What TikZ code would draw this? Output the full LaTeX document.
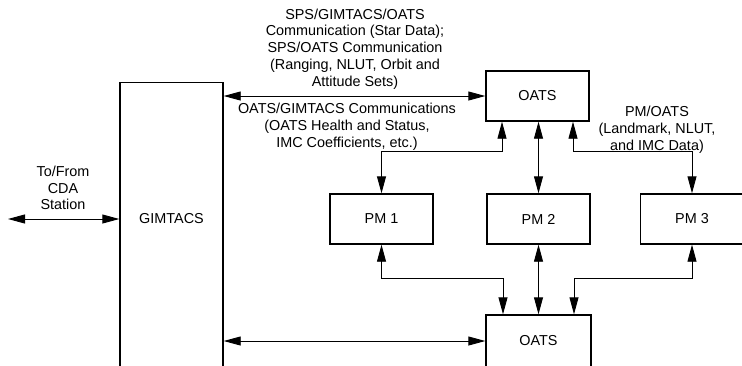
\documentclass[tikz,border=0pt]{standalone}
\usepackage{fontspec}
\setmainfont{Liberation Sans}
\usetikzlibrary{arrows.meta}

\begin{document}
\begin{tikzpicture}[x=1pt, y=-1pt,
  every node/.style={font=\fontsize{14.4}{16.8}\selectfont},
  unit/.style={draw, line width=1.4pt, minimum width=103pt, minimum height=50pt, inner sep=0pt},
  note/.style={align=center, inner sep=0pt},
  link/.style={line width=0.9pt, {Triangle[length=17pt,width=9pt]}-{Triangle[length=17pt,width=9pt]}}]
  \useasboundingbox (0,0) rectangle (742,365);
  \node[unit, minimum height=340pt, anchor=north] (gim) at (171.5,82) {};
  \node[note] (gimname) at (171.5,219) {GIMTACS};
  \node[unit] (oatsup) at (537.5,96) {OATS};
  \node[unit] (pm1) at (381.5,219) {PM 1};
  \node[unit] (pm2) at (538.5,219) {PM 2};
  \node[unit, minimum width=130pt, anchor=west] (pm3) at (640,219) {};
  \node[note] (pm3name) at (692,219) {PM 3};
  \node[unit, minimum width=105pt, minimum height=52pt] (oatsdn) at (538.5,341) {OATS};
  \coordinate (cda) at (8,219);
  \node[note] (cdanote) at (63,188) {To/From\\CDA\\Station};
  \node[note] (spsnote) at (355,49) {SPS/GIMTACS/OATS\\Communication (Star Data);\\SPS/OATS Communication\\(Ranging, NLUT, Orbit and\\Attitude Sets)};
  \node[note] (hsnote) at (347,127) {OATS/GIMTACS Communications\\(OATS Health and Status,\\IMC Coefficients, etc.)};
  \node[note] (pmnote) at (657,130) {PM/OATS\\(Landmark, NLUT,\\and IMC Data)};
  \draw[link] (cda) -- (gim.west |- cda);
  \draw[link] (gim.east |- oatsup.west) -- (oatsup.west);
  \draw[link] (gim.east |- oatsdn.west) -- (oatsdn.west);
  \draw[link] ([xshift=-35.5pt]oatsup.south) -- ++(0,30) -| (pm1.north);
  \draw[link] (oatsup.south -| pm2.north) -- (pm2.north);
  \draw[link] ([xshift=35.5pt]oatsup.south) -- ++(0,30) -| (pm3.north -| pm3name);
  \draw[link] (pm1.south) -- ++(0,34) -| ([xshift=-35.5pt]oatsdn.north);
  \draw[link] (pm2.south) -- (oatsdn.north);
  \draw[link] (pm3.south -| pm3name) -- ++(0,34) -| ([xshift=35.5pt]oatsdn.north);
\end{tikzpicture}
\end{document}
